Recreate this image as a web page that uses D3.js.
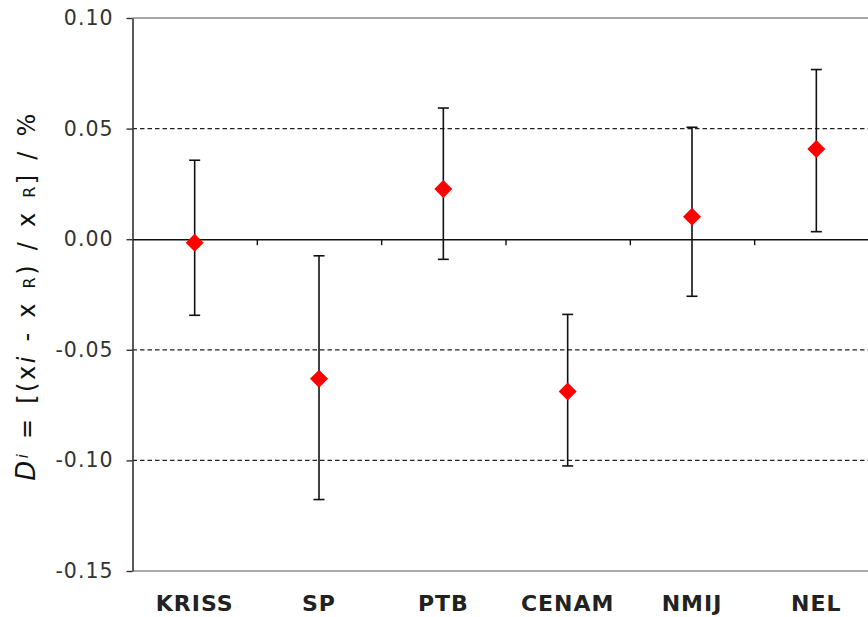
<!DOCTYPE html>
<html>
<head>
<meta charset="utf-8">
<script src="https://d3js.org/d3.v7.min.js"></script>
<style>
  html, body { margin: 0; padding: 0; background: #fff; overflow: hidden; }
  svg { display: block; }
  text { font-family: "DejaVu Sans", Verdana, sans-serif; }
</style>
</head>
<body>
<svg id="chart" width="868" height="617"></svg>
<script>
// ---- Data ----
const categories = ["KRISS", "SP", "PTB", "CENAM", "NMIJ", "NEL"];
const values     = [-0.0016, -0.0631, 0.0227, -0.0689, 0.0102, 0.0408];
const upperBar   = [0.0357, -0.0075, 0.0593, -0.0340, 0.0506, 0.0767];
const lowerBar   = [-0.0344, -0.1177, -0.0091, -0.1025, -0.0258, 0.0034];
const yTicks      = [-0.15, -0.10, -0.05, 0.00, 0.05, 0.10];
const yTickLabels = ["-0.15", "-0.10", "-0.05", "0.00", "0.05", "0.10"];
const gridValues  = [0.05, -0.05, -0.10];

// ---- Layout ----
const svg = d3.select("#chart");
const plotLeft = 132.5, plotRight = 878.5, plotTop = 18, plotBottom = 571;

const x = d3.scaleBand().domain(categories).range([plotLeft, plotRight]).paddingInner(0).paddingOuter(0);
const y = d3.scaleLinear().domain([-0.15, 0.10]).range([plotBottom, plotTop]);

// plot area top/bottom borders
svg.append("line").attr("x1", plotLeft).attr("x2", 868).attr("y1", y(0.10)).attr("y2", y(0.10))
  .attr("stroke", "#8c8c8c").attr("stroke-width", 1.5);
svg.append("line").attr("x1", plotLeft).attr("x2", 868).attr("y1", y(-0.15)).attr("y2", y(-0.15))
  .attr("stroke", "#8c8c8c").attr("stroke-width", 1.5);

// dashed gridlines
svg.append("g").selectAll("line").data(gridValues).join("line")
  .attr("x1", plotLeft).attr("x2", 868)
  .attr("y1", d => y(d)).attr("y2", d => y(d))
  .attr("stroke", "#222").attr("stroke-width", 1.3)
  .attr("stroke-dasharray", "4.5,3");

// y axis
const yAxis = d3.axisLeft(y).tickValues(yTicks)
  .tickFormat(d => yTickLabels[yTicks.indexOf(d)])
  .tickSize(6).tickSizeOuter(0).tickPadding(13);
const gy = svg.append("g").attr("transform", `translate(${plotLeft},0)`).call(yAxis);
gy.select(".domain").attr("stroke", "#333").attr("stroke-width", 1.6);
gy.selectAll(".tick line").attr("stroke", "#333").attr("stroke-width", 1.4);
gy.selectAll(".tick text").attr("font-size", 20.5).attr("fill", "#333")
  .attr("letter-spacing", "1px")
  .attr("font-family", "'DejaVu Sans', Verdana, sans-serif");

// zero axis with category-boundary ticks
const idx = d3.scaleLinear().domain([0, categories.length]).range([plotLeft, plotRight]);
const gx0 = svg.append("g").attr("transform", `translate(0,${y(0)})`)
  .call(d3.axisBottom(idx).tickValues(d3.range(1, categories.length)).tickFormat("").tickSize(6).tickSizeOuter(0));
gx0.select(".domain").attr("stroke", "#111").attr("stroke-width", 1.6);
gx0.selectAll(".tick line").attr("stroke", "#111").attr("stroke-width", 1.4);

// category labels
const gx = svg.append("g").attr("transform", `translate(0,${plotBottom})`)
  .call(d3.axisBottom(x).tickSize(0).tickPadding(24));
gx.select(".domain").remove();
gx.selectAll(".tick text").attr("font-size", 22).attr("font-weight", "bold").attr("fill", "#222")
  .attr("letter-spacing", "1px")
  .attr("font-family", "'DejaVu Sans', Verdana, sans-serif");

// error bars
const cx = c => x(c) + x.bandwidth() / 2;
const capW = 5.5;
const eb = svg.append("g").attr("stroke", "#111").attr("stroke-width", 1.6);
categories.forEach((c, i) => {
  eb.append("line").attr("x1", cx(c)).attr("x2", cx(c)).attr("y1", y(upperBar[i])).attr("y2", y(lowerBar[i]));
  eb.append("line").attr("x1", cx(c) - capW).attr("x2", cx(c) + capW).attr("y1", y(upperBar[i])).attr("y2", y(upperBar[i]));
  eb.append("line").attr("x1", cx(c) - capW).attr("x2", cx(c) + capW).attr("y1", y(lowerBar[i])).attr("y2", y(lowerBar[i]));
});

// diamond markers
const diamond = d3.symbol().type(d3.symbolSquare).size(162);
svg.append("g").selectAll("path").data(categories).join("path")
  .attr("d", diamond)
  .attr("transform", (c, i) => `translate(${cx(c)},${y(values[i])}) rotate(45)`)
  .attr("fill", "#ff0000");

// y axis title
const title = svg.append("text")
  .attr("transform", "translate(35,296) rotate(-90)")
  .attr("text-anchor", "middle")
  .attr("letter-spacing", "2.5px").attr("word-spacing", "2.5px")
  .attr("font-size", 24).attr("fill", "#111");
title.append("tspan").attr("font-style", "italic").attr("font-size", 26).text("D");
title.append("tspan").attr("font-style", "italic").attr("font-size", 15).attr("dy", -7).text("i");
title.append("tspan").attr("dy", 7).text(" = [(x");
title.append("tspan").attr("font-style", "italic").text("i");
title.append("tspan").text(" - x ");
title.append("tspan").attr("font-size", 16).text("R");
title.append("tspan").text(") / x ");
title.append("tspan").attr("font-size", 16).text("R");
title.append("tspan").text("] / %");
</script>
</body>
</html>
